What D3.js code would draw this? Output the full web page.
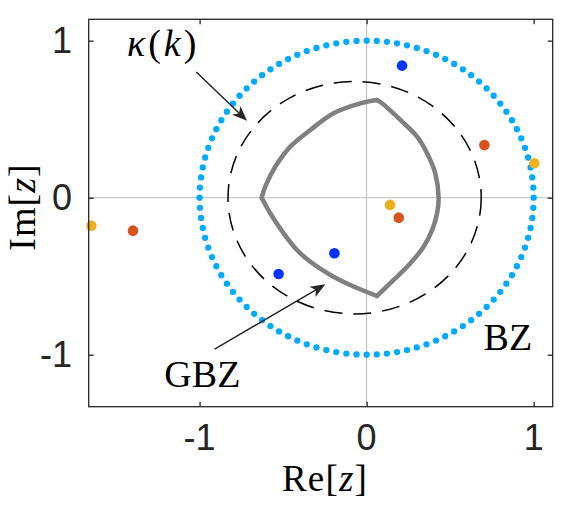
<!DOCTYPE html>
<html>
<head>
<meta charset="utf-8">
<script src="https://cdn.jsdelivr.net/npm/d3@7"></script>
<style>
  html, body { margin: 0; padding: 0; background: #fff; }
  svg { display: block; }
</style>
</head>
<body>
<div id="chart"></div>
<script>
"use strict";

// axis limits and ticks
const xLimits = [-1.664, 1.114];
const yLimits = [-1.331, 1.136];
const xTicks = [-1, 0, 1];
const yTicks = [-1, 0, 1];

// Brillouin zone, |z| = 1, drawn as 100 dots
const bzRadius = 1;
const bzPointCount = 100;

// kappa(k) dashed contour
const kappaCenter = [-0.072, 0];
const kappaRadii = [0.758, 0.74];

// generalized Brillouin zone, corners at top, left, bottom
const gbzRe = [0.062, -0.038, -0.198, -0.337, -0.457, -0.547, -0.607, -0.628,
               -0.577, -0.497, -0.417, -0.337, -0.217, -0.098, 0.062,
               0.162, 0.262, 0.341, 0.392, 0.422, 0.431, 0.411, 0.362, 0.302, 0.202, 0.092, 0.062];
const gbzIm = [0.622, 0.601, 0.538, 0.431, 0.325, 0.197, 0.070, 0,
               -0.099, -0.227, -0.333, -0.408, -0.492, -0.556, -0.626,
               -0.524, -0.418, -0.312, -0.206, -0.099, 0, 0.155, 0.283, 0.389, 0.495, 0.601, 0.622];
const gbzCorners = [0, 7, 14, 26];

// eigenvalue markers
const blueRe = [0.212, -0.193, -0.527];
const blueIm = [0.841, -0.354, -0.486];
const orangeRe = [0.705, 0.192, -1.399];
const orangeIm = [0.335, -0.127, -0.21];
const yellowRe = [1.004, 0.14, -1.648];
const yellowIm = [0.219, -0.046, -0.178];

const width = 581;
const height = 507;
const margin = {left: 88.7, right: 28.3, top: 19.3, bottom: 100.3};
const axisColor = "#262626";
const serif = "'Liberation Serif', 'Times New Roman', serif";
const sans = "'Liberation Sans', Arial, Helvetica, sans-serif";

let x = d3.scaleLinear()
          .domain(xLimits)
          .range([margin.left, width - margin.right]);
let y = d3.scaleLinear()
          .domain(yLimits)
          .range([height - margin.bottom, margin.top]);

let svg = d3.select("#chart")
            .append("svg")
            .attr("width", width)
            .attr("height", height);

svg.append("rect")
   .attr("width", width)
   .attr("height", height)
   .attr("fill", "#fff");

// grid lines at zero only
svg.append("line")
   .attr("x1", x(0)).attr("x2", x(0))
   .attr("y1", y(yLimits[0])).attr("y2", y(yLimits[1]))
   .attr("stroke", "#bdbdbd").attr("stroke-width", 1);
svg.append("line")
   .attr("x1", x(xLimits[0])).attr("x2", x(xLimits[1]))
   .attr("y1", y(0)).attr("y2", y(0))
   .attr("stroke", "#bdbdbd").attr("stroke-width", 1);

// GBZ, one smooth piece between every two corners
let gbzPoints = gbzRe.map((re, i) => [re, gbzIm[i]]);
let gbzLine = d3.line()
                .x((d) => x(d[0]))
                .y((d) => y(d[1]))
                .curve(d3.curveCatmullRom.alpha(0.5));
for (let i = 0; i < gbzCorners.length - 1; i++)
{
    svg.append("path")
       .attr("d", gbzLine(gbzPoints.slice(gbzCorners[i], gbzCorners[i + 1] + 1)))
       .attr("fill", "none")
       .attr("stroke", "#808080")
       .attr("stroke-width", 4.5)
       .attr("stroke-linejoin", "round")
       .attr("stroke-linecap", "round");
}

// kappa(k)
svg.append("ellipse")
   .attr("cx", x(kappaCenter[0]))
   .attr("cy", y(kappaCenter[1]))
   .attr("rx", x(kappaCenter[0] + kappaRadii[0]) - x(kappaCenter[0]))
   .attr("ry", y(kappaCenter[1]) - y(kappaCenter[1] + kappaRadii[1]))
   .attr("fill", "none")
   .attr("stroke", "#000")
   .attr("stroke-width", 1.5)
   .attr("stroke-dasharray", "18 11");

// BZ as dots spaced evenly along |z| = 1
svg.append("ellipse")
   .attr("cx", x(0))
   .attr("cy", y(0))
   .attr("rx", x(bzRadius) - x(0))
   .attr("ry", y(0) - y(bzRadius))
   .attr("pathLength", bzPointCount)
   .attr("fill", "none")
   .attr("stroke", "#00aaff")
   .attr("stroke-width", 6.3)
   .attr("stroke-linecap", "round")
   .attr("stroke-dasharray", "0 1");

// markers
let series = [[blueRe, blueIm, "#0033ff"],
              [orangeRe, orangeIm, "#d95319"],
              [yellowRe, yellowIm, "#edb120"]];
series.forEach(([re, im, color]) =>
{
    svg.append("g")
       .selectAll("circle")
       .data(re.map((r, i) => [r, im[i]]))
       .join("circle")
       .attr("cx", (d) => x(d[0]))
       .attr("cy", (d) => y(d[1]))
       .attr("r", 5.3)
       .attr("fill", color);
});

// box and ticks
svg.append("rect")
   .attr("x", x(xLimits[0]))
   .attr("y", y(yLimits[1]))
   .attr("width", x(xLimits[1]) - x(xLimits[0]))
   .attr("height", y(yLimits[0]) - y(yLimits[1]))
   .attr("fill", "none")
   .attr("stroke", axisColor)
   .attr("stroke-width", 1.3);

function box_axis(axis, pos)
{
    let g = svg.append("g")
               .attr("transform", pos)
               .call(axis.tickSizeInner(-5).tickSizeOuter(0).tickFormat(""));
    g.select(".domain").remove();
    g.selectAll("line").attr("stroke", axisColor).attr("stroke-width", 1.3);
}
box_axis(d3.axisBottom(x).tickValues(xTicks), "translate(0," + y(yLimits[0]) + ")");
box_axis(d3.axisTop(x).tickValues(xTicks), "translate(0," + y(yLimits[1]) + ")");
box_axis(d3.axisLeft(y).tickValues(yTicks), "translate(" + x(xLimits[0]) + ",0)");
box_axis(d3.axisRight(y).tickValues(yTicks), "translate(" + x(xLimits[1]) + ",0)");

// tick labels
svg.append("g")
   .selectAll("text")
   .data(xTicks)
   .join("text")
   .attr("x", (d) => x(d))
   .attr("y", 450)
   .attr("text-anchor", "middle")
   .attr("font-family", sans)
   .attr("font-size", 36)
   .attr("fill", axisColor)
   .text((d) => d);

svg.append("g")
   .selectAll("text")
   .data(yTicks)
   .join("text")
   .attr("x", 72)
   .attr("y", (d) => y(d) + 12.5)
   .attr("text-anchor", "end")
   .attr("font-family", sans)
   .attr("font-size", 36)
   .attr("fill", axisColor)
   .text((d) => d);

// axis labels
function math_label(sel, parts)
{
    parts.forEach(([t, italic]) =>
    {
        sel.append("tspan")
           .attr("font-style", italic ? "italic" : "normal")
           .text(t);
    });
    return sel;
}

math_label(svg.append("text")
              .attr("x", 325)
              .attr("y", 491)
              .attr("text-anchor", "middle")
              .attr("font-family", serif)
              .attr("font-size", 37)
              .attr("letter-spacing", 1.2)
              .attr("fill", "#000"),
           [["Re", false], ["[", false], ["z", true], ["]", false]]);

math_label(svg.append("text")
              .attr("transform", "translate(35,207) rotate(-90)")
              .attr("text-anchor", "middle")
              .attr("font-family", serif)
              .attr("font-size", 38)
              .attr("letter-spacing", 1)
              .attr("fill", "#000"),
           [["Im", false], ["[", false], ["z", true], ["]", false]]);

// annotations
math_label(svg.append("text")
              .attr("x", x(-1.435))
              .attr("y", y(0.903))
              .attr("font-family", serif)
              .attr("font-size", 38)
              .attr("letter-spacing", 3)
              .attr("fill", "#000"),
           [["κ", true], ["(", false], ["k", true], [")", false]]);

svg.append("text")
   .attr("x", x(-1.211))
   .attr("y", y(-1.204))
   .attr("font-family", serif)
   .attr("font-size", 38)
   .attr("fill", "#000")
   .text("GBZ");

svg.append("text")
   .attr("x", x(0.70))
   .attr("y", y(-0.97))
   .attr("font-family", serif)
   .attr("font-size", 38)
   .attr("fill", "#000")
   .text("BZ");

function arrow(from, to)
{
    let x1 = x(from[0]), y1 = y(from[1]);
    let x2 = x(to[0]), y2 = y(to[1]);
    let ang = Math.atan2(y2 - y1, x2 - x1);
    svg.append("line")
       .attr("x1", x1).attr("y1", y1)
       .attr("x2", x2 - 10 * Math.cos(ang))
       .attr("y2", y2 - 10 * Math.sin(ang))
       .attr("stroke", axisColor)
       .attr("stroke-width", 1.5);
    svg.append("path")
       .attr("d", "M0,0 L-15,-6 L-11,0 L-15,6 Z")
       .attr("transform", "translate(" + x2 + "," + y2 + ") rotate(" + (ang * 180 / Math.PI) + ")")
       .attr("fill", axisColor);
}
arrow([-1.02, 0.80], [-0.716, 0.49]);
arrow([-0.91, -0.964], [-0.247, -0.552]);
</script>
</body>
</html>
